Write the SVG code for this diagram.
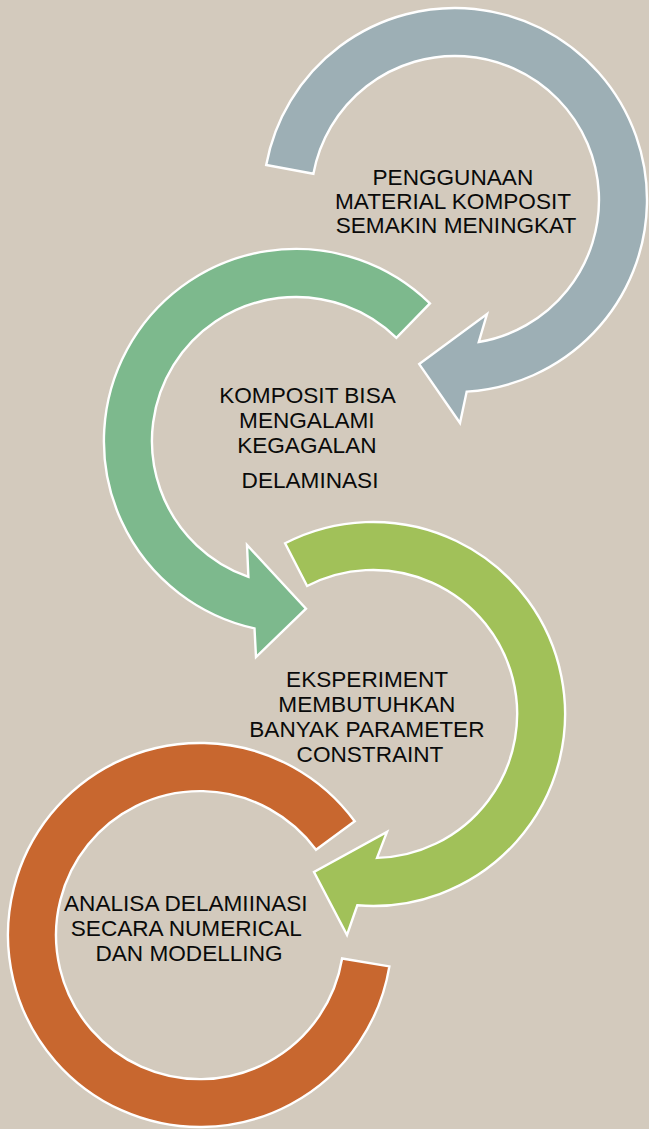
<svg xmlns="http://www.w3.org/2000/svg" width="649" height="1129" viewBox="0 0 649 1129">
  <style>
    .arc { stroke: #FFFFFF; stroke-width: 2.4; stroke-linejoin: miter; }
    .lbl { font-family: "Liberation Sans", Arial, sans-serif; font-size: 22.6px; fill: #0A0A0A; text-anchor: middle; }
  </style>
  <rect x="0" y="0" width="649" height="1129" fill="#D3CABD"/>

  <g id="node-1">
    <path class="arc" fill="#9DAFB5" d="M266.2,165 A192,192 0 1 1 466.7,391.6 L460,423 L419.2,364.1 L487,314 L478.8,342 A144,144 0 1 0 313.4,173.8 Z"/>
    <text class="lbl">
      <tspan x="456" y="185">PENGGUNAAN</tspan>
      <tspan x="456" y="209">MATERIAL KOMPOSIT</tspan>
      <tspan x="456" y="233">SEMAKIN MENINGKAT</tspan>
    </text>
  </g>

  <g id="node-2">
    <path class="arc" fill="#7DB98D" d="M429.9,303.4 A192,192 0 1 0 254.5,628.4 L256,657 L306,608.7 L247,545 L248.4,576.9 A144,144 0 1 1 396.4,337.8 Z"/>
    <text class="lbl">
      <tspan x="310" y="403">KOMPOSIT BISA</tspan>
      <tspan x="310" y="428">MENGALAMI</tspan>
      <tspan x="310" y="453">KEGAGALAN</tspan>
      <tspan x="310" y="488">DELAMINASI</tspan>
    </text>
  </g>

  <g id="node-3">
    <path class="arc" fill="#A1C159" d="M285.1,543.3 A192,192 0 1 1 357.3,905.3 L347,935 L314,872 L387,832 L377,857.9 A144,144 0 1 0 307.1,586 Z"/>
    <text class="lbl">
      <tspan x="370" y="687">EKSPERIMENT</tspan>
      <tspan x="370" y="712">MEMBUTUHKAN</tspan>
      <tspan x="370" y="737">BANYAK PARAMETER</tspan>
      <tspan x="370" y="762">CONSTRAINT</tspan>
    </text>
  </g>

  <g id="node-4">
    <path class="arc" fill="#C8672F" d="M354.7,821.3 A192,192 0 1 0 389.4,966.4 L342.1,958.5 A144,144 0 1 1 316,849.8 Z"/>
    <text class="lbl">
      <tspan x="189" y="911">ANALISA DELAMIINASI</tspan>
      <tspan x="189" y="936">SECARA NUMERICAL</tspan>
      <tspan x="189" y="961">DAN MODELLING</tspan>
    </text>
  </g>
</svg>
